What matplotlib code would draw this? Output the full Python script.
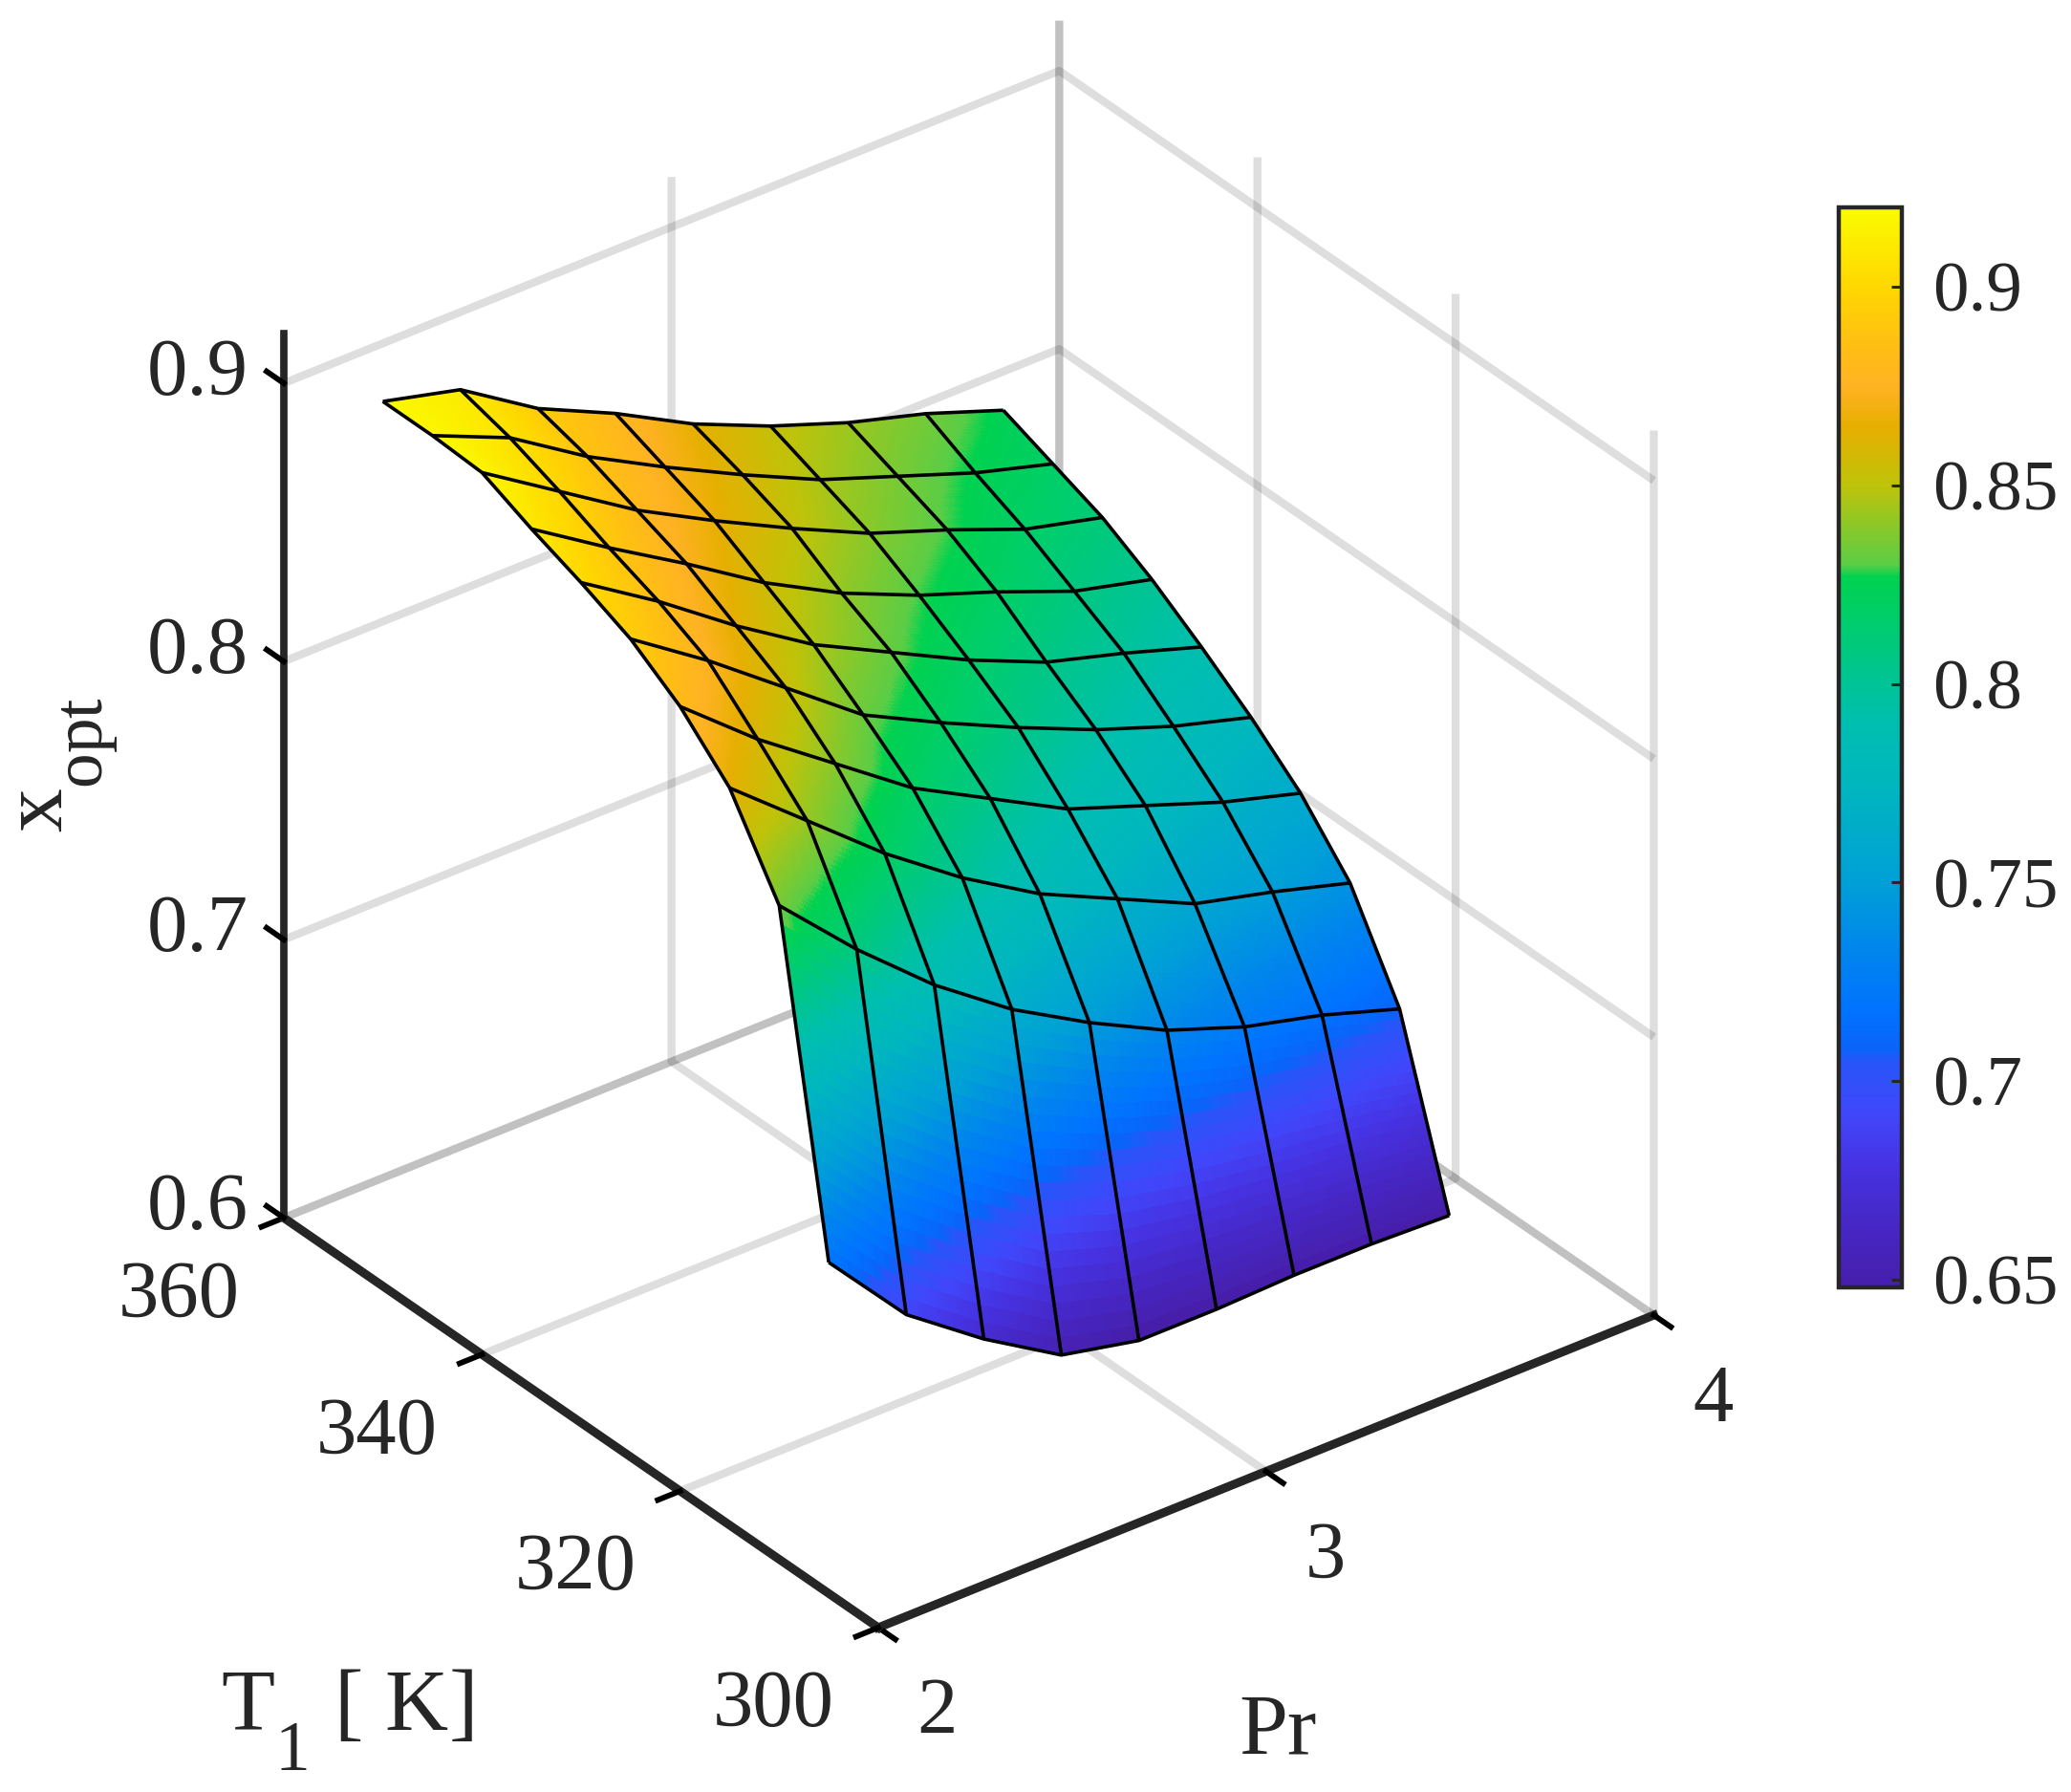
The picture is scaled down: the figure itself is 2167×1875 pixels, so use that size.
import numpy as np
import matplotlib
matplotlib.use("Agg")
import matplotlib.pyplot as plt
from matplotlib import _mathtext
from matplotlib.colors import LinearSegmentedColormap, Normalize
from matplotlib.cm import ScalarMappable
from matplotlib.transforms import Affine2D
from mpl_toolkits.mplot3d import proj3d

plt.rcParams['font.family'] = ['Liberation Serif', 'DejaVu Serif']
plt.rcParams['mathtext.fontset'] = 'custom'
plt.rcParams['mathtext.rm'] = 'Liberation Serif'
plt.rcParams['mathtext.it'] = 'Liberation Serif'
plt.rcParams['axes3d.automargin'] = False
# larger, lower subscripts as in the reference
_mathtext.SHRINK_FACTOR = 0.8
_mathtext.FontConstantsBase.sub1 = 1.0
_mathtext.FontConstantsBase.sub2 = 1.0

# ---- data ----
pr_values = [2.0, 2.2, 2.4, 2.6, 2.8, 3.0, 3.2, 3.4, 3.6]
t1_values = [305, 310, 315, 320, 325, 330, 335, 340, 345, 350]
x_t305 = [.719, .689, .669, .652, .646, .646, .647, .647, .646]
x_t310 = [.835, .808, .784, .764, .748, .734, .724, .717, .708]
x_t315 = [.865, .842, .819, .799, .782, .769, .756, .749, .741]
x_t320 = [.882, .859, .839, .819, .804, .789, .779, .769, .761]
x_t325 = [.894, .875, .854, .833, .819, .806, .794, .784, .776]
x_t330 = [.902, .884, .864, .846, .832, .818, .806, .798, .789]
x_t335 = [.909, .891, .874, .856, .841, .829, .819, .808, .801]
x_t340 = [.917, .899, .881, .866, .852, .839, .829, .818, .811]
x_t345 = [.918, .906, .888, .873, .859, .846, .836, .826, .818]
x_t350 = [.918, .911, .893, .880, .865, .853, .843, .835, .825]

pr_ticks = [2, 3, 4]
t1_ticks = [300, 320, 340, 360]
z_ticks = [0.6, 0.7, 0.8, 0.9]
z_tick_labels = ['0.6', '0.7', '0.8', '0.9']
cbar_ticks = [0.65, 0.7, 0.75, 0.8, 0.85, 0.9]
cbar_tick_labels = ['0.65', '0.7', '0.75', '0.8', '0.85', '0.9']

cmap_values = [.648, .665, .678, .691, .7046, .708, .7177, .734, .75, .775, .79, .80, .815, .827, .830,
               .84, .85, .8647, .875, .885, .90, .919]
cmap_colors = ['#461EAA', '#4628C8', '#4632E1', '#4146FA', '#2855FA', '#0A64FA', '#0073FF', '#0087EB',
               '#00A0D7', '#00B7BE', '#00BEAF', '#00C396', '#00CD6E', '#00D250', '#5ACD46',
               '#8CC828', '#BEC30A', '#E6AF00', '#FFB223', '#FFBE14', '#FFD700', '#FAFA00']

# ---- figure ----
W, H = 2167, 1875
fig = plt.figure(figsize=(W / 100, H / 100), dpi=100, facecolor='white')
ax = fig.add_axes([0, 0, 1, 1], projection='3d', proj_type='ortho', computed_zorder=False)
ax.patch.set_alpha(0)
ax.view_init(elev=31.8, azim=232.6)
ax.set_xlim(2, 4, view_margin=0)
ax.set_ylim(300, 360, view_margin=0)
ax.set_zlim(0.6, 0.918, view_margin=0)
aspect = (739, 741, 788)
ax.set_box_aspect(aspect, zoom=1.0)

Z = np.array([x_t305, x_t310, x_t315, x_t320, x_t325, x_t330, x_t335, x_t340, x_t345, x_t350])
P, T = np.meshgrid(pr_values, t1_values)

vmin, vmax = 0.648, 0.92
cmap = LinearSegmentedColormap.from_list(
    'surf', [((v - vmin) / (vmax - vmin), c) for v, c in zip(cmap_values, cmap_colors)] + [(1.0, '#FAFA00')], N=512)
norm = Normalize(vmin, vmax)

# finer facets only so that the colour runs smoothly across each cell (interpolated shading)
sub = 20
u = np.linspace(0, len(pr_values) - 1, sub * (len(pr_values) - 1) + 1)
v = np.linspace(0, len(t1_values) - 1, sub * (len(t1_values) - 1) + 1)
iu0 = np.minimum(np.floor(u).astype(int), len(pr_values) - 2); fu = u - iu0
iv0 = np.minimum(np.floor(v).astype(int), len(t1_values) - 2); fv = v - iv0
def refine(A):
    a = A[iv0][:, iu0] * (1 - fu) + A[iv0][:, iu0 + 1] * fu
    b = A[iv0 + 1][:, iu0] * (1 - fu) + A[iv0 + 1][:, iu0 + 1] * fu
    return a * (1 - fv)[:, None] + b * fv[:, None]

ax.plot_surface(refine(P), refine(T), refine(Z), cmap=cmap, norm=norm, rstride=1, cstride=1,
                linewidth=0.6, antialiased=False, shade=False, edgecolor='none', zorder=2)
ax.plot_wireframe(P, T, Z, rstride=1, cstride=1, color='#000000', linewidth=2.6, zorder=3)

# axes
ax.set_xticks(pr_ticks)
ax.set_yticks(t1_ticks)
ax.set_zticks(z_ticks)
ax.set_zticklabels(z_tick_labels)
txt = '#262626'
fs = 61
ax.tick_params(axis='x', labelsize=fs, labelcolor=txt, pad=36)
ax.tick_params(axis='y', labelsize=fs, labelcolor=txt, pad=36)
ax.tick_params(axis='z', labelsize=fs, labelcolor=txt, pad=28)
ax.zaxis._get_tickdir = lambda position: 1
for axis, lw, fin, fout in ((ax.xaxis, 6.5, 0.36, 0.0), (ax.yaxis, 6.5, 0.36, 0.0), (ax.zaxis, 5.5, 0.0, 0.36)):
    axis.set_pane_color((1, 1, 1, 0))
    axis.pane.set_edgecolor((1, 1, 1, 0))
    axis._axinfo['grid'].update(color=(0, 0, 0, 0.13), linewidth=6.0)
    axis.line.set_color('#262626')
    axis.line.set_linewidth(lw)
    axis._axinfo['axisline'].update(color='#262626', linewidth=lw)
    axis._axinfo['tick'].update(inward_factor=fin, outward_factor=fout, linewidth={True: 4.2, False: 2},
                                color='#262626')
lab = 66
ax.set_xlabel('Pr', fontsize=lab, color=txt, labelpad=80)
ax.set_ylabel(r'T$_{\mathrm{1}}$ [ K]', fontsize=lab, color=txt, labelpad=80, rotation=0)
ax.zaxis.set_rotate_label(False)
ax.set_zlabel(r'x$_{\mathrm{opt}}$', fontsize=lab, color=txt, labelpad=60, rotation=90)
ax.yaxis.set_rotate_label(False)
ax.xaxis.set_rotate_label(False)

# place the box: corners (Pr=2,T=300) and (Pr=4,T=300) at their positions in the picture
def px(x, y, z):
    X, Y, _ = proj3d.proj_transform(x, y, z, ax.get_proj())
    return ax.transData.transform((X, Y))
target_a = np.array([919.0, H - 1703.0])
target_b = np.array([1730.0, H - 1375.0])
fig.canvas.draw()
d = np.linalg.norm(px(4, 300, .6) - px(2, 300, .6))
ax.set_box_aspect(aspect, zoom=np.linalg.norm(target_b - target_a) / d)
fig.canvas.draw()
off = target_a - px(2, 300, .6)
ax.set_position([off[0] / W, off[1] / H, 1, 1])

# fine placement of the axis texts, in pixels (mplot3d resets their transforms while drawing)
def nudge(artist, dx, dy):
    draw = artist.draw
    shift = Affine2D().translate(dx, dy)
    def shifted_draw(renderer):
        artist._transform = ax.transData + shift
        draw(renderer)
    artist.draw = shifted_draw
for t in ax.zaxis.get_major_ticks():
    nudge(t.label1, -17, 42)
for t in ax.yaxis.get_major_ticks():
    nudge(t.label1, -59, 34)
for t in ax.xaxis.get_major_ticks():
    nudge(t.label1, 23, 33)
nudge(ax.xaxis.label, -77, -79)
nudge(ax.yaxis.label, -129, -130)
nudge(ax.zaxis.label, -58, 0)

# colour bar
cax = fig.add_axes([1924 / W, 1 - 1347 / H, 66 / W, 1130 / H])
cb = fig.colorbar(ScalarMappable(norm=norm, cmap=cmap), cax=cax)
cb.set_ticks(cbar_ticks, labels=cbar_tick_labels)
cb.ax.tick_params(direction='in', length=8, width=2.2, color='#262626', labelsize=54, labelcolor=txt, pad=23)
cb.outline.set_edgecolor('#262626')
cb.outline.set_linewidth(3.2)

fig.savefig('out.png', dpi=100, facecolor='white')
